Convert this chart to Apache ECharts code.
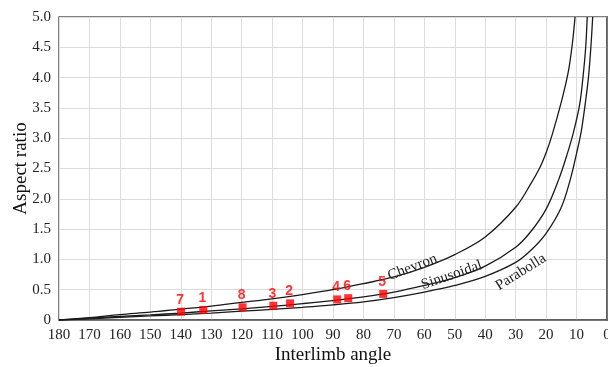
<!DOCTYPE html>
<html>
<head>
<meta charset="utf-8">
<script src="https://cdn.jsdelivr.net/npm/echarts@6/dist/echarts.min.js"></script>
<style>
  html, body { margin: 0; padding: 0; background: #fff; }
  #chart { width: 608px; height: 367px; }
</style>
</head>
<body>
<div id="chart"></div>
<script>
// curves (interlimb angle -> aspect ratio)
const chevronAngles = [180, 170, 160, 150, 140, 130, 120, 110, 100, 90, 80, 70, 60, 50, 40, 30, 25, 22, 20, 18, 15, 12.7, 11.4, 10.5];
const chevronRatio = [0, 0.04, 0.09, 0.13, 0.18, 0.23, 0.29, 0.35, 0.42, 0.5, 0.6, 0.71, 0.87, 1.08, 1.37, 1.86, 2.25, 2.52, 2.76, 3.06, 3.6, 4.1, 4.55, 5.0];

const sinusAngles = [180, 170, 160, 150, 140, 130, 120, 110, 100, 90, 80, 70, 60, 50, 40, 30, 25, 20, 16, 13, 11, 9, 7.9, 7, 6.5];
const sinusRatio = [0, 0.03, 0.06, 0.085, 0.115, 0.15, 0.185, 0.225, 0.27, 0.32, 0.38, 0.46, 0.57, 0.7, 0.89, 1.2, 1.46, 1.83, 2.3, 2.75, 3.1, 3.55, 4.0, 4.5, 5.0];

const paraAngles = [180, 170, 160, 150, 140, 130, 120, 110, 100, 90, 80, 70, 60, 50, 40, 30, 25, 20, 15, 12, 10, 8.5, 7.2, 6.1, 5.3, 4.7];
const paraRatio = [0, 0.02, 0.045, 0.067, 0.09, 0.115, 0.145, 0.175, 0.21, 0.25, 0.3, 0.37, 0.46, 0.57, 0.72, 0.95, 1.15, 1.43, 1.86, 2.33, 2.75, 3.1, 3.55, 4.0, 4.5, 5.0];

// measured folds
const pointNames = ["7", "1", "8", "3", "2", "4", "6", "5"];
const pointAngles = [139.9, 132.6, 119.7, 109.6, 104.1, 88.6, 85, 73.5];
const pointRatios = [0.137, 0.165, 0.21, 0.236, 0.275, 0.34, 0.36, 0.43];

// curve captions: [name, angle, ratio, rotation]
const captions = [
  ["Chevron", 63.9, 0.87, 21],
  ["Sinusoidal", 51, 0.74, 19],
  ["Parabolla", 28.3, 0.79, 32],
];

const serif = "Liberation Serif, Times New Roman, serif";

function pairs(xs, ys) {
  return xs.map((x, i) => [x, ys[i]]);
}

function curve(name, xs, ys, cap) {
  return {
    name: name,
    type: "line",
    data: pairs(xs, ys),
    smooth: 0.35,
    symbol: "none",
    lineStyle: { color: "#1a1a1a", width: 1.3 },
    z: 2,
    markPoint: {
      symbol: "circle",
      symbolSize: 1,
      silent: true,
      itemStyle: { color: "rgba(0,0,0,0)" },
      data: [
        {
          coord: [cap[1], cap[2]],
          label: {
            show: true,
            formatter: cap[0],
            rotate: cap[3],
            color: "#222",
            fontFamily: serif,
            fontSize: 15,
            position: "inside",
            align: "center",
            verticalAlign: "middle",
          },
        },
      ],
    },
  };
}

const myChart = echarts.init(document.getElementById("chart"), null, { renderer: "canvas" });

const option = {
  animation: false,
  grid: {
    left: 59,
    right: 1,
    top: 17,
    bottom: 47,
    outerBoundsMode: "none",
    containLabel: false,
    show: true,
    borderColor: "#555",
    borderWidth: 1.5,
    backgroundColor: "#fff",
  },
  xAxis: {
    type: "value",
    min: 0,
    max: 180,
    interval: 10,
    inverse: true,
    name: "Interlimb angle",
    nameLocation: "middle",
    nameGap: 26,
    nameMoveOverlap: false,
    nameTextStyle: { fontFamily: serif, fontSize: 19, color: "#111" },
    axisLine: { show: true, lineStyle: { color: "#555", width: 1.5 } },
    axisTick: { show: false },
    axisLabel: { fontFamily: serif, fontSize: 15, color: "#222", margin: 8 },
    splitLine: { show: true, lineStyle: { color: "#dcdcdc", width: 1 } },
  },
  yAxis: {
    type: "value",
    min: 0,
    max: 5,
    interval: 0.5,
    name: "Aspect ratio",
    nameLocation: "middle",
    nameGap: 28,
    nameMoveOverlap: false,
    nameTextStyle: { fontFamily: serif, fontSize: 19, color: "#111" },
    axisLine: { show: true, lineStyle: { color: "#555", width: 1.5 } },
    axisTick: { show: false },
    axisLabel: {
      fontFamily: serif,
      fontSize: 15,
      color: "#222",
      margin: 8,
      formatter: (v) => (v === 0 ? "0" : v.toFixed(1)),
    },
    splitLine: { show: true, lineStyle: { color: "#dcdcdc", width: 1 } },
  },
  series: [
    curve("Chevron", chevronAngles, chevronRatio, captions[0]),
    curve("Sinusoidal", sinusAngles, sinusRatio, captions[1]),
    curve("Parabolla", paraAngles, paraRatio, captions[2]),
    {
      name: "Folds",
      type: "scatter",
      data: pointAngles.map((a, i) => ({ value: [a, pointRatios[i]], name: pointNames[i] })),
      symbol: "rect",
      symbolSize: 8,
      itemStyle: { color: "#ff0000" },
      z: 5,
      label: {
        show: true,
        position: "top",
        distance: 1,
        offset: [-1, 0],
        formatter: (p) => p.name,
        color: "#ff0000",
        fontFamily: "Liberation Sans, Arial, sans-serif",
        fontWeight: "bold",
        fontSize: 14,
      },
    },
  ],
};

myChart.setOption(option);
</script>
</body>
</html>
